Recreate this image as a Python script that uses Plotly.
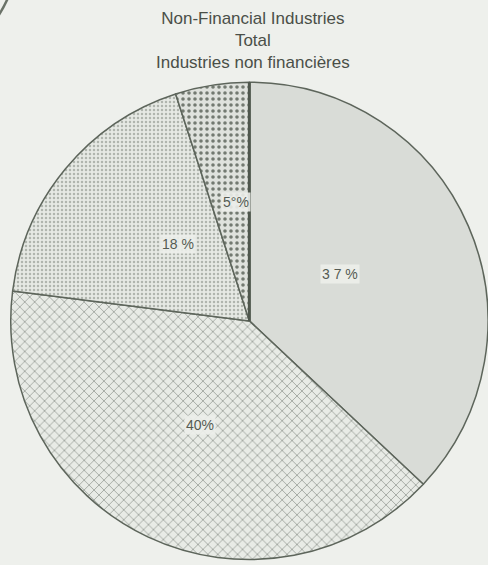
import plotly.graph_objects as go

categories = ["A", "B", "C", "D"]
values = [37, 40, 18, 5]
labels = ["3 7 %", "40%", "18 %", "5°%"]
title_lines = ["Non-Financial Industries", "Total", "Industries non financières"]

dom_x = [0.022, 1.0]
dom_y = [0.009, 0.855]

fig = go.Figure()
fig.add_trace(go.Pie(
    labels=categories,
    values=values,
    sort=False,
    direction="clockwise",
    rotation=0,
    textinfo="none",
    hoverinfo="skip",
    showlegend=False,
    domain=dict(x=dom_x, y=dom_y),
    marker=dict(
        colors=["#d9dcd7", "#e8ebe6", "#e4e7e2", "#dcdfda"],
        line=dict(color="#5d655b", width=1.5),
        pattern=dict(
            shape=["", "x", ".", "."],
            fgcolor=["#d9dcd7", "#878d85", "#b0b5ae", "#737a71"],
            bgcolor=["#d9dcd7", "#e8ebe6", "#e6e9e4", "#dfe2dd"],
            size=[8, 7, 4, 6],
            solidity=[0.2, 0.18, 0.3, 0.28],
        ),
    ),
))

# thicker dividing line at 12 o'clock (start of first slice), from domain geometry
W, H = 488, 565
cx = (dom_x[0] + dom_x[1]) / 2
cy = (dom_y[0] + dom_y[1]) / 2
r_px = min((dom_x[1] - dom_x[0]) * W, (dom_y[1] - dom_y[0]) * H) / 2
fig.add_shape(type="line", xref="paper", yref="paper",
              x0=cx, x1=cx, y0=cy, y1=cy + r_px / H,
              line=dict(color="#4f574d", width=3))

# label positions (paper coords)
pos = [(0.738, 0.515), (0.41, 0.23), (0.328, 0.568), (0.484, 0.642)]
for t, (x, y) in zip(labels, pos):
    fig.add_annotation(x=x, y=y, xref="paper", yref="paper", text=t, showarrow=False,
                       font=dict(family="Liberation Sans, Arial", size=14, color="#555b53"),
                       bgcolor="rgba(236,238,234,0.9)", borderpad=1)

fig.add_annotation(x=253 / W, y=0.988, xref="paper", yref="paper", yanchor="top",
                   text="<br>".join(title_lines), showarrow=False,
                   font=dict(family="Liberation Sans, Arial", size=17, color="#4a4f48"))

# corner fragment of neighbouring chart
fig.add_shape(type="circle", xref="paper", yref="paper",
              x0=-0.4525, x1=0.0369, y0=0.8772, y1=1.2998,
              line=dict(color="#6a7268", width=2.5), fillcolor="rgba(0,0,0,0)")

fig.update_layout(
    width=W, height=H,
    margin=dict(l=0, r=0, t=0, b=0),
    paper_bgcolor="#eef0ec",
    plot_bgcolor="#eef0ec",
)
fig.write_html("out.html", config={"displayModeBar": False},
               post_script="document.body.style.margin='0';document.body.style.background='#eef0ec';")
